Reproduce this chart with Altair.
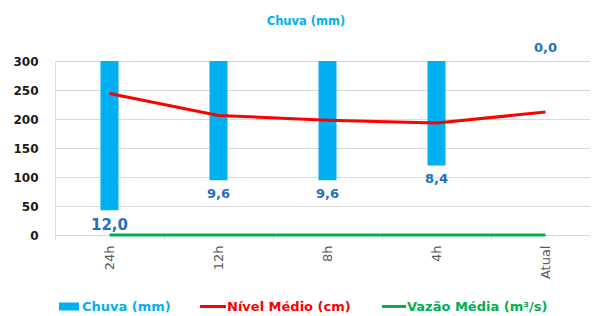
import altair as alt
import pandas as pd

categorias = ["24h", "12h", "8h", "4h", "Atual"]
chuva = [12.0, 9.6, 9.6, 8.4, 0.0]
nivel = [244, 206, 198, 193, 212]
vazao = [0, 0, 0, 0, 0]

legend_labels = ["Chuva (mm)", "Nível Médio (cm)", "Vazão Média (m³/s)"]
c_chuva, c_nivel, c_vazao = "#00B0F0", "#FF0000", "#00B050"
lbl_color = "#1F70C0"
FONT = "DejaVu Sans"

df = pd.DataFrame({"cat": categorias, "chuva": chuva, "nivel": nivel, "vazao": vazao})

xenc = alt.X(
    "cat:N", sort=categorias, title=None,
    scale=alt.Scale(paddingInner=0, paddingOuter=0, range=[0, 545]),
    axis=alt.Axis(labelAngle=-90, labelFontSize=13, labelColor="#595959", labelFont=FONT,
                  domainColor="#D9D9D9", tickColor="#D9D9D9", tickSize=4, labelPadding=6,
                  bandPosition=0, grid=False),
)
rain_scale = alt.Scale(domain=[0, 14], reverse=True)

base = alt.Chart(df).encode(x=xenc)

bars = base.mark_bar(size=18, color=c_chuva).encode(
    y=alt.Y("chuva:Q", scale=rain_scale, axis=None)
)

lines = base.transform_fold(["nivel", "vazao"], as_=["serie", "valor"]).mark_line(strokeWidth=3).encode(
    y=alt.Y("valor:Q", scale=alt.Scale(domain=[0, 300]), title=None,
            axis=alt.Axis(orient="left", values=[0, 50, 100, 150, 200, 250, 300], domain=False, ticks=False,
                          labelFontSize=12, labelFontWeight="bold", labelColor="#1a1a1a", labelFont=FONT,
                          labelPadding=17, gridColor="#D9D9D9", grid=True)),
    color=alt.Color("serie:N", scale=alt.Scale(domain=["nivel", "vazao"], range=[c_nivel, c_vazao]), legend=None),
    detail="serie:N",
)

lab_base = base.transform_calculate(lbl="replace(format(datum.chuva, '.1f'), '.', ',')")
labels_pos = lab_base.transform_filter("datum.chuva > 0").mark_text(
    baseline="top", dy=8, fontWeight="bold", font=FONT, color=lbl_color
).encode(
    y=alt.Y("chuva:Q", scale=rain_scale, axis=None),
    text="lbl:N",
    size=alt.condition("datum.chuva >= 10", alt.value(15), alt.value(13)),
)
labels_zero = lab_base.transform_filter("datum.chuva == 0").mark_text(
    baseline="alphabetic", dy=-9, fontWeight="bold", font=FONT, color=lbl_color, fontSize=13
).encode(
    y=alt.Y("chuva:Q", scale=rain_scale, axis=None),
    text="lbl:N",
)

def one(t):
    return alt.Chart(pd.DataFrame({"t": [t]}))

title = one("Chuva (mm)").mark_text(fontSize=11.5, fontWeight="bold", color=c_chuva, font=FONT,
                                     align="center", baseline="middle").encode(
    text="t:N", x=alt.value(251), y=alt.value(-39))

leg_y = 245.5
leg1_sym = one(legend_labels[0]).mark_rect(color=c_chuva).encode(
    x=alt.value(4), x2=alt.value(24), y=alt.value(leg_y - 4), y2=alt.value(leg_y + 4))
leg1_txt = one(legend_labels[0]).mark_text(fontSize=13, fontWeight="bold", color=c_chuva, font=FONT,
                                           align="left", baseline="middle").encode(
    text="t:N", x=alt.value(27), y=alt.value(leg_y))
leg2_sym = one(legend_labels[1]).mark_rule(color=c_nivel, strokeWidth=3).encode(
    x=alt.value(145), x2=alt.value(171), y=alt.value(leg_y))
leg2_txt = one(legend_labels[1]).mark_text(fontSize=13, fontWeight="bold", color=c_nivel, font=FONT,
                                           align="left", baseline="middle").encode(
    text="t:N", x=alt.value(172), y=alt.value(leg_y))
leg3_sym = one(legend_labels[2]).mark_rule(color=c_vazao, strokeWidth=3).encode(
    x=alt.value(327), x2=alt.value(351), y=alt.value(leg_y))
leg3_txt = one(legend_labels[2]).mark_text(fontSize=13, fontWeight="bold", color=c_vazao, font=FONT,
                                           align="left", baseline="middle").encode(
    text="t:N", x=alt.value(352), y=alt.value(leg_y))

chart = alt.layer(
    bars, lines, labels_pos, labels_zero, title,
    leg1_sym, leg1_txt, leg2_sym, leg2_txt, leg3_sym, leg3_txt
).resolve_scale(y="independent").properties(
    width=535, height=174,
    autosize=alt.AutoSizeParams(type="none"),
    padding={"left": 47, "top": 53, "right": 0, "bottom": 80},
).configure_view(stroke=None).configure(background="white")

chart.save("out.html", embed_options={"renderer": "svg", "actions": False})
